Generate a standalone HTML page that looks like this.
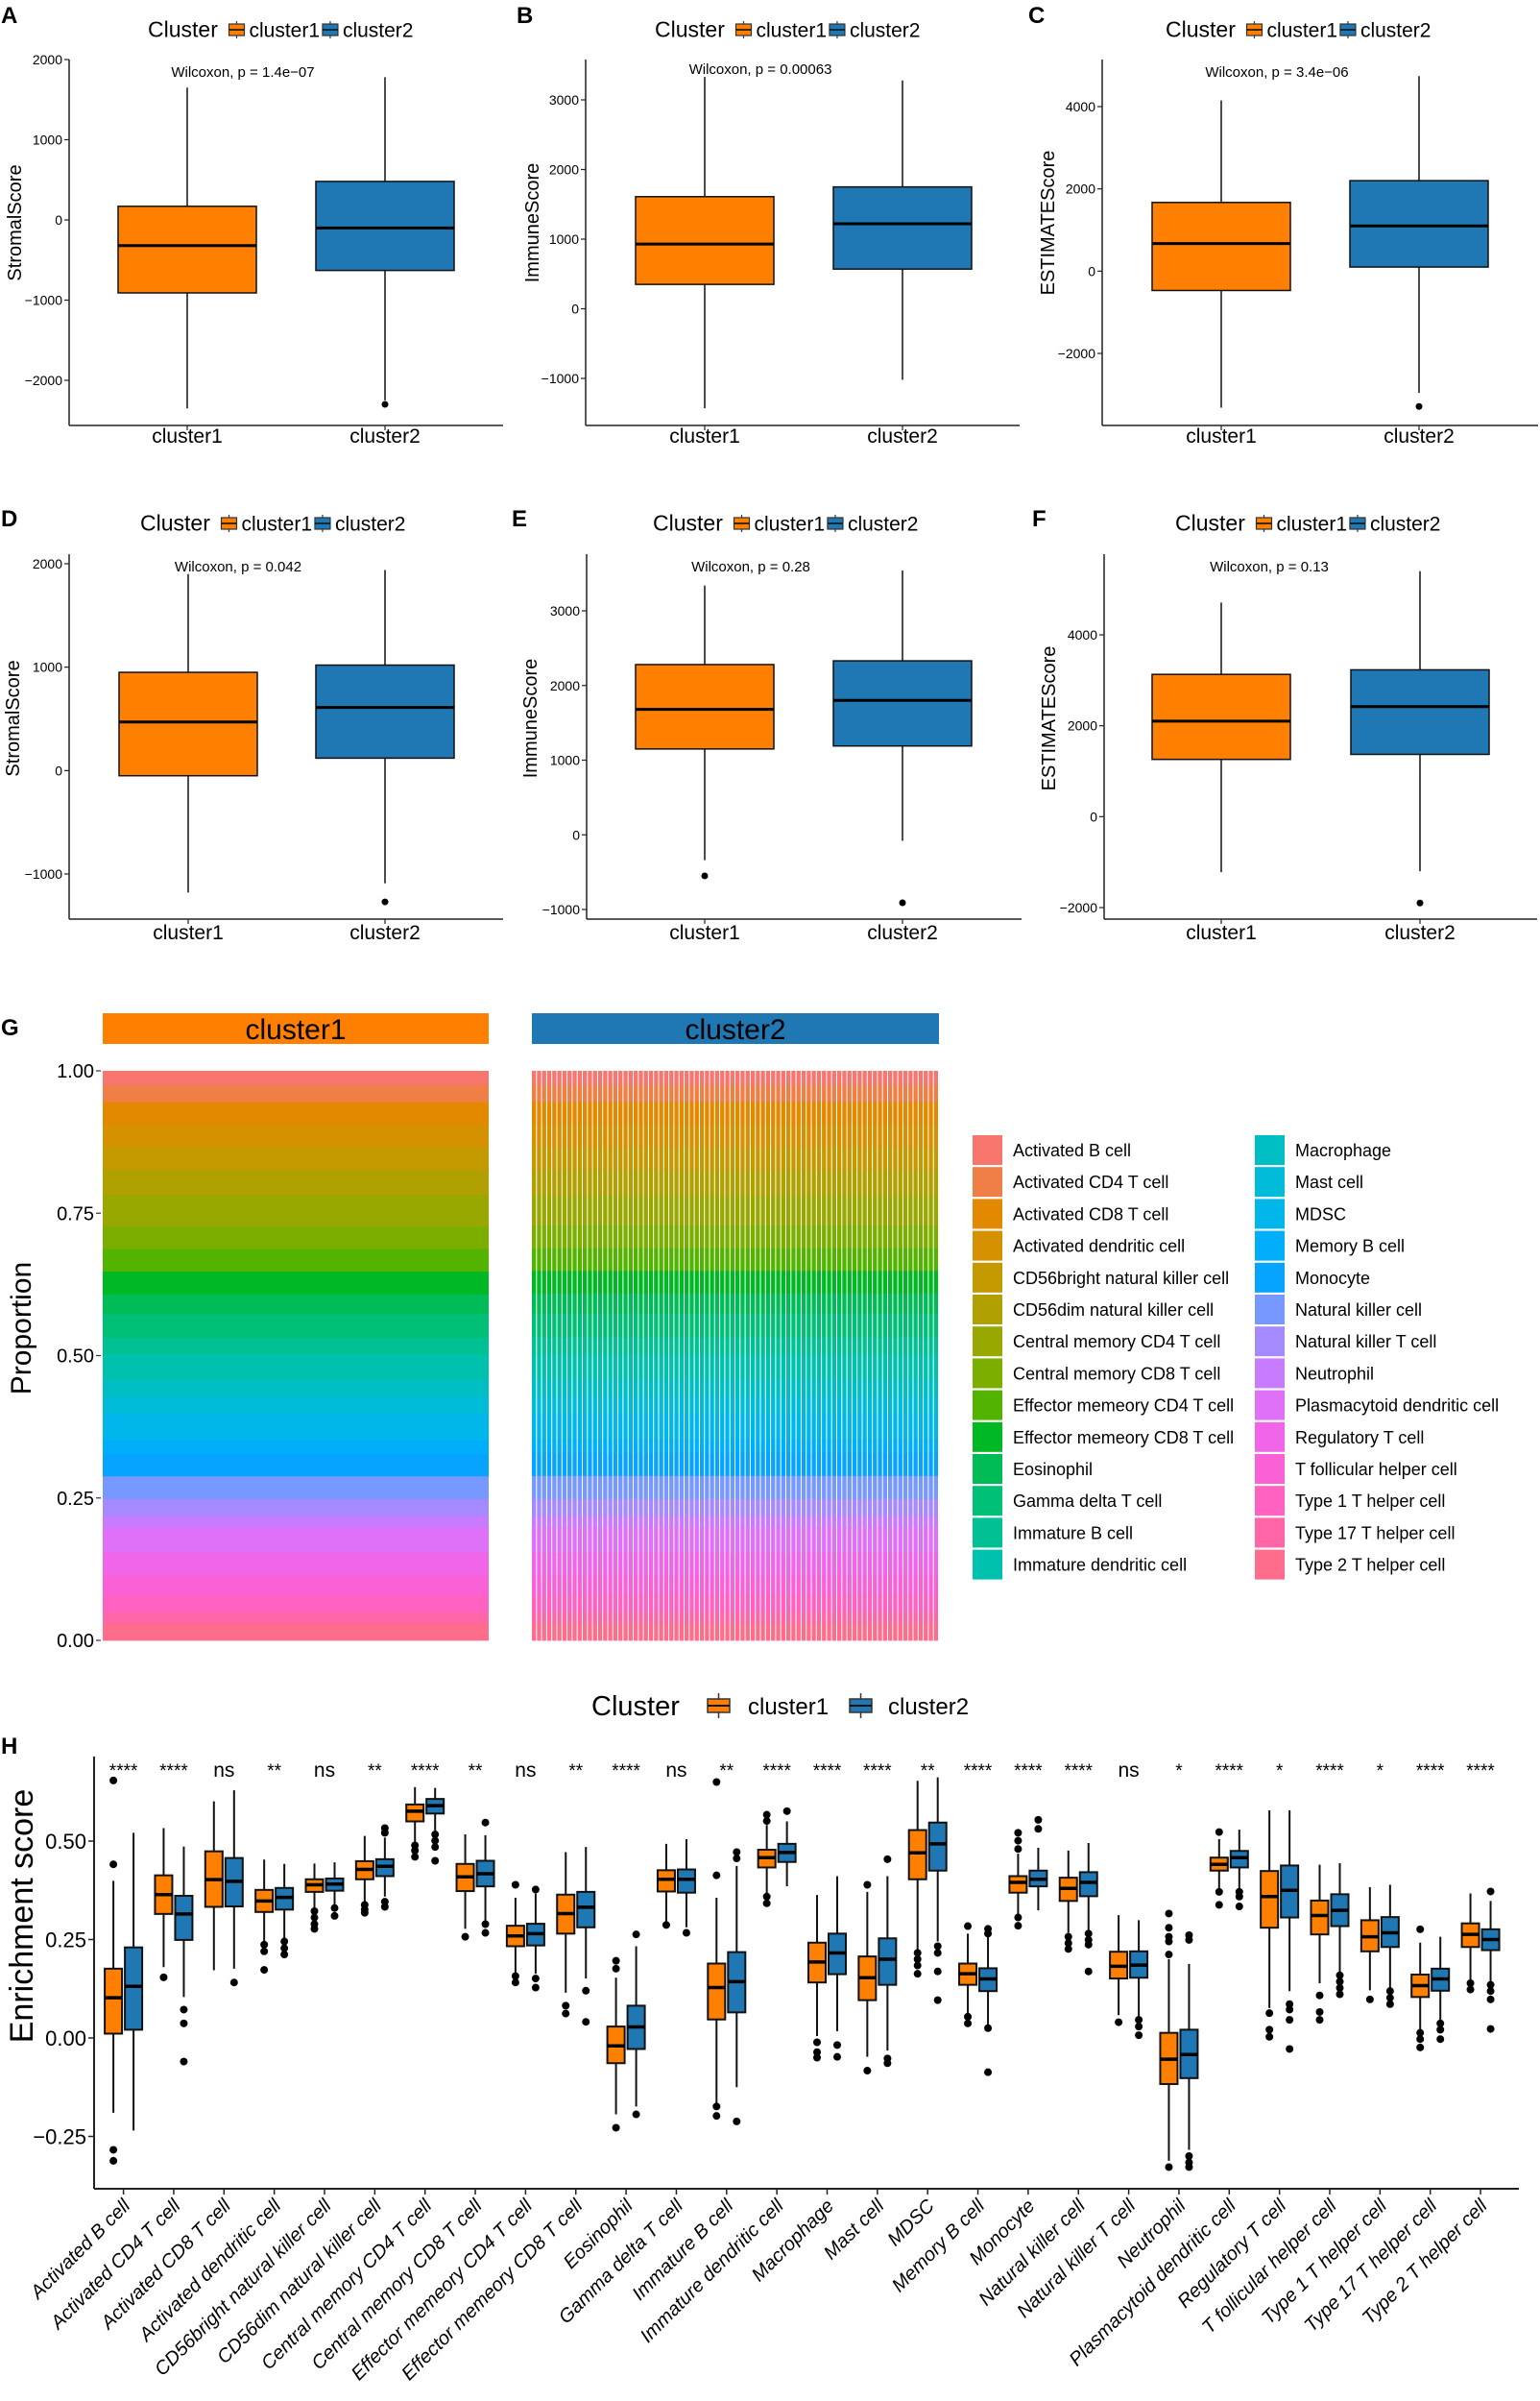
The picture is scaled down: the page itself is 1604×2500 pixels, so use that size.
<!DOCTYPE html>
<html><head><meta charset="utf-8">
<style>
html,body{margin:0;padding:0;background:#fff;}
svg{display:block;}
text{font-family:"Liberation Sans",sans-serif;fill:#000;}
</style></head>
<body>
<svg id="fig" width="1604" height="2500" viewBox="0 0 1604 2500" xmlns="http://www.w3.org/2000/svg"></svg>
<script>
// ===== Panels A-F data: [lowerWhisker, q1, median, q3, upperWhisker] =====
const aC1 = [-2350, -910, -320, 170, 1650];
const aC2 = [-2250, -630, -100, 480, 1780];
const aC1Out = [];
const aC2Out = [-2300];
const bC1 = [-1430, 350, 930, 1610, 3330];
const bC2 = [-1020, 570, 1220, 1750, 3280];
const bC1Out = [];
const bC2Out = [];
const cC1 = [-3320, -470, 670, 1670, 4150];
const cC2 = [-2960, 100, 1100, 2200, 4740];
const cC1Out = [];
const cC2Out = [-3290];
const dC1 = [-1180, -50, 470, 950, 1900];
const dC2 = [-1090, 120, 610, 1020, 1940];
const dC1Out = [];
const dC2Out = [-1270];
const eC1 = [-340, 1150, 1680, 2280, 3340];
const eC2 = [-80, 1190, 1800, 2330, 3540];
const eC1Out = [-550];
const eC2Out = [-910];
const fC1 = [-1220, 1260, 2100, 3130, 4710];
const fC2 = [-1200, 1370, 2420, 3230, 5400];
const fC1Out = [];
const fC2Out = [-1900];
const pLabels = ["Wilcoxon, p = 1.4e\u221207","Wilcoxon, p = 0.00063","Wilcoxon, p = 3.4e\u221206","Wilcoxon, p = 0.042","Wilcoxon, p = 0.28","Wilcoxon, p = 0.13"];
const yTitles = ["StromalScore","ImmuneScore","ESTIMATEScore","StromalScore","ImmuneScore","ESTIMATEScore"];
const ticksA = [-2000,-1000,0,1000,2000];
const ticksB = [-1000,0,1000,2000,3000];
const ticksC = [-2000,0,2000,4000];
const ticksD = [-1000,0,1000,2000];
const ticksE = [-1000,0,1000,2000,3000];
const ticksF = [-2000,0,2000,4000];
const groupNames = ["cluster1","cluster2"];

// ===== Panel G data =====
const cellTypes = ["Activated B cell","Activated CD4 T cell","Activated CD8 T cell","Activated dendritic cell","CD56bright natural killer cell","CD56dim natural killer cell","Central memory CD4 T cell","Central memory CD8 T cell","Effector memeory CD4 T cell","Effector memeory CD8 T cell","Eosinophil","Gamma delta T cell","Immature  B cell","Immature dendritic cell","Macrophage","Mast cell","MDSC","Memory B cell","Monocyte","Natural killer cell","Natural killer T cell","Neutrophil","Plasmacytoid dendritic cell","Regulatory T cell","T follicular helper cell","Type 1 T helper cell","Type 17 T helper cell","Type 2 T helper cell"];
const propC1 = [2.5,3,4,4,4,4.5,5.5,4,4,4,3.5,4.2,3,4.5,3,3,4.5,2.5,4,4,3,2,4.5,4,3.5,3,2,3];
const propC2 = [2.5,3,4,4,4,4.5,5.3,4,4,4,3.5,4.2,3,4.5,3,3,4.5,2.5,4,4,3,2,4.5,4,3.5,3,2,3];
const gTicks = [0,0.25,0.5,0.75,1];
const gTickLabels = ["0.00","0.25","0.50","0.75","1.00"];
const nSamples2 = 80;

// ===== Panel H data =====
const hCats = cellTypes;
const hSig = ["****","****","ns","**","ns","**","****","**","ns","**","****","ns","**","****","****","****","**","****","****","****","ns","*","****","*","****","*","****","****"];
const hC1Stats = [[-0.19,0.011,0.102,0.176,0.399],[0.180,0.315,0.364,0.413,0.533],[0.172,0.333,0.402,0.474,0.601],[0.241,0.320,0.348,0.376,0.453],[0.330,0.371,0.389,0.403,0.443],[0.346,0.403,0.428,0.449,0.513],[0.493,0.550,0.576,0.593,0.637],[0.277,0.373,0.409,0.442,0.517],[0.163,0.233,0.259,0.285,0.356],[0.115,0.265,0.316,0.364,0.472],[-0.194,-0.064,-0.020,0.029,0.153],[0.293,0.372,0.403,0.426,0.493],[-0.166,0.047,0.128,0.189,0.356],[0.364,0.433,0.458,0.478,0.541],[0.005,0.141,0.193,0.242,0.363],[-0.048,0.096,0.153,0.207,0.371],[0.223,0.403,0.470,0.528,0.653],[0.062,0.135,0.163,0.189,0.265],[0.311,0.369,0.395,0.411,0.468],[0.267,0.348,0.380,0.407,0.476],[0.058,0.151,0.182,0.219,0.312],[-0.312,-0.117,-0.054,0.013,0.200],[0.379,0.425,0.441,0.458,0.505],[0.076,0.280,0.359,0.424,0.578],[0.139,0.263,0.311,0.349,0.440],[0.121,0.220,0.257,0.299,0.383],[0.021,0.104,0.133,0.161,0.242],[0.146,0.231,0.263,0.291,0.367]];
const hC2Stats = [[-0.235,0.021,0.131,0.230,0.521],[0.104,0.249,0.315,0.361,0.486],[0.176,0.334,0.398,0.457,0.629],[0.249,0.326,0.357,0.381,0.442],[0.334,0.374,0.391,0.405,0.446],[0.359,0.411,0.436,0.454,0.509],[0.527,0.570,0.590,0.607,0.635],[0.293,0.385,0.417,0.450,0.515],[0.163,0.235,0.265,0.290,0.367],[0.151,0.281,0.332,0.371,0.485],[-0.174,-0.028,0.028,0.082,0.233],[0.281,0.369,0.403,0.428,0.505],[-0.125,0.065,0.143,0.218,0.437],[0.385,0.447,0.471,0.493,0.550],[0.017,0.162,0.216,0.265,0.411],[-0.032,0.135,0.200,0.253,0.411],[0.245,0.425,0.493,0.547,0.662],[0.033,0.119,0.150,0.177,0.259],[0.324,0.385,0.403,0.425,0.483],[0.273,0.360,0.395,0.421,0.495],[0.054,0.153,0.185,0.220,0.299],[-0.284,-0.102,-0.042,0.021,0.188],[0.375,0.433,0.458,0.475,0.529],[0.119,0.306,0.375,0.438,0.578],[0.167,0.284,0.324,0.365,0.444],[0.127,0.231,0.267,0.307,0.389],[0.041,0.120,0.150,0.176,0.257],[0.139,0.223,0.250,0.276,0.348]];
const hC1Out = [[0.654,0.441,-0.284,-0.312],[0.154],[],[0.237,0.220,0.173],[0.322,0.306,0.289,0.277],[0.338,0.326,0.318],[0.489,0.476,0.460],[0.257],[0.389,0.157,0.141],[0.082,0.062],[0.196,0.176,-0.228],[0.287],[0.650,0.413,-0.174,-0.198],[0.567,0.551,0.359,0.342],[-0.011,-0.036,-0.050],[0.389,-0.083],[0.216,0.2,0.184,0.163],[0.284,0.054,0.037],[0.521,0.501,0.480,0.306,0.285],[0.257,0.241,0.226],[0.040],[0.316,0.280,0.257,0.245,0.212,-0.328],[0.523,0.371,0.338],[0.063,0.021,0.003],[0.108,0.066,0.046],[0.098],[0.276,0.013,-0.003,-0.024],[0.139,0.123]];
const hC2Out = [[],[0.072,0.037,-0.060],[0.141],[0.245,0.228,0.212],[0.330,0.310],[0.533,0.521,0.346,0.333],[0.517,0.501,0.485,0.450],[0.547,0.289,0.267],[0.377,0.151,0.128],[0.12,0.041],[0.263,-0.194],[0.267],[0.472,0.456,-0.212],[0.576],[-0.018,-0.048],[0.454,-0.052,-0.064],[0.233,0.216,0.169,0.096],[0.277,0.265,0.025,-0.087],[0.554,0.531],[0.265,0.249,0.237,0.169],[0.046,0.029,0.007],[0.261,0.249,-0.300,-0.316,-0.328],[0.371,0.359,0.334],[0.086,0.072,0.046,-0.028],[0.159,0.143,0.127,0.111],[0.119,0.102,0.086],[0.037,0.021,-0.003],[0.372,0.135,0.119,0.098,0.023]];
const hTicks = [-0.25,0,0.25,0.5];
const hTickLabels = ["-0.25","0.00","0.25","0.50"];

// ===== helpers =====
const NS = "http://www.w3.org/2000/svg";
const svg = document.getElementById("fig");
const ORANGE = "#FF7F00", BLUE = "#1F77B4";
function mk(tag, attrs, parent) {
  const e = document.createElementNS(NS, tag);
  for (const k in attrs) e.setAttribute(k, attrs[k]);
  (parent || svg).appendChild(e);
  return e;
}
function txt(str, attrs, parent) {
  const e = mk("text", attrs, parent);
  e.textContent = str;
  return e;
}
function linScale(v0, p0, v1, p1) { return v => p0 + (v - v0) * (p1 - p0) / (v1 - v0); }

function drawBox(g, cx, hw, st, outs, color, ys, sw, mw, r) {
  const wl = mk("line", {x1:cx, x2:cx, y1:ys(st[4]), y2:ys(st[0]), stroke:"#111", "stroke-width":sw}, g);
  
  
  const bx = mk("rect", {x:cx-hw, y:ys(st[3]), width:2*hw, height:ys(st[1])-ys(st[3]), fill:color, stroke:"#111", "stroke-width":sw}, g);
  
  
  const md = mk("line", {x1:cx-hw, x2:cx+hw, y1:ys(st[2]), y2:ys(st[2]), stroke:"#000", "stroke-width":mw}, g);
  
  
  outs.forEach(o => {
    const c = mk("circle", {cx:cx, cy:ys(o), r:r, fill:"#000"}, g);
    
    
  });
}

function legendRow(g, x, yc, fs, gap) {
  const t = txt("Cluster", {x:x, y:yc+fs*0.36, "font-size":fs+2}, g);
  
  
  let cx = x + (fs+2)*3.5 + 4;
  [ORANGE, BLUE].forEach((col, i) => {
    const k = mk("g", {}, g);
    
    
    mk("line", {x1:cx+8, x2:cx+8, y1:yc-9, y2:yc+9, stroke:"#333", "stroke-width":1.2}, k);
    mk("rect", {x:cx, y:yc-6, width:16, height:12, fill:col, stroke:"#333", "stroke-width":1.2}, k);
    mk("line", {x1:cx, x2:cx+16, y1:yc, y2:yc, stroke:"#111", "stroke-width":1.6}, k);
    const lt = txt(groupNames[i], {x:cx+21+gap, y:yc+fs*0.36, "font-size":fs}, g);
    
    
    cx += 21 + gap + fs*3.45 + 4 + gap;
  });
}

// ===== Panels A-F =====
const panels = [
  {L:"A", lx:0, ly:24, ax:72, right:524, top:62, bot:443, t0:2000, p0:62, t1:-2000, p1:396, cx:[195,401], c1:aC1, c2:aC2, o1:aC1Out, o2:aC2Out, ticks:ticksA, tx:15, tyc:225, legX:154, legY:31, wx:253, wy:80, xly:461},
  {L:"B", lx:537, ly:24, ax:610, right:1062, top:62, bot:443, t0:3000, p0:104, t1:-1000, p1:394, cx:[734,940], c1:bC1, c2:bC2, o1:bC1Out, o2:bC2Out, ticks:ticksB, tx:554, tyc:225, legX:682, legY:31, wx:792, wy:77, xly:461},
  {L:"C", lx:1070, ly:24, ax:1148, right:1602, top:62, bot:443, t0:4000, p0:111, t1:-2000, p1:368, cx:[1272,1478], c1:cC1, c2:cC2, o1:cC1Out, o2:cC2Out, ticks:ticksC, tx:1091, tyc:225, legX:1214, legY:31, wx:1330, wy:80, xly:461},
  {L:"D", lx:0, ly:548, ax:72, right:524, top:577, bot:957, t0:2000, p0:587, t1:-1000, p1:910, cx:[196,401], c1:dC1, c2:dC2, o1:dC1Out, o2:dC2Out, ticks:ticksD, tx:13, tyc:741, legX:146, legY:545, wx:248, wy:595, xly:978},
  {L:"E", lx:532, ly:548, ax:611, right:1064, top:577, bot:957, t0:3000, p0:636, t1:-1000, p1:947, cx:[734,940], c1:eC1, c2:eC2, o1:eC1Out, o2:eC2Out, ticks:ticksE, tx:552, tyc:741, legX:680, legY:545, wx:782, wy:595, xly:978},
  {L:"F", lx:1074, ly:548, ax:1150, right:1601, top:577, bot:957, t0:4000, p0:661, t1:-2000, p1:945, cx:[1272,1479], c1:fC1, c2:fC2, o1:fC1Out, o2:fC2Out, ticks:ticksF, tx:1092, tyc:741, legX:1224, legY:545, wx:1322, wy:595, xly:978}
];
panels.forEach((p, i) => {
  const g = mk("g", {});
  
  
  const ys = linScale(p.t0, p.p0, p.t1, p.p1);
  const lt = txt(p.L, {x:p.lx+1, y:p.ly, "font-size":24, "font-weight":"bold"}, g);
  
  
  legendRow(g, p.legX, p.legY, 21, 0);
  // axes
  const ya = mk("line", {x1:p.ax, x2:p.ax, y1:p.top, y2:p.bot, stroke:"#222", "stroke-width":1.5}, g);
  
  
  const xa = mk("line", {x1:p.ax, x2:p.right, y1:p.bot, y2:p.bot, stroke:"#222", "stroke-width":1.5}, g);
  
  
  p.ticks.forEach(t => {
    const y = ys(t);
    mk("line", {x1:p.ax-5, x2:p.ax, y1:y, y2:y, stroke:"#222", "stroke-width":1.2}, g);
    const tl = txt(String(t).replace("-", "\u2212"), {x:p.ax-7, y:y+5, "font-size":14, "text-anchor":"end", fill:"#222"}, g);
    
    
  });
  const yt = txt(yTitles[i], {x:p.tx, y:p.tyc, "font-size":20, "text-anchor":"middle", transform:"rotate(-90 " + (p.tx+7) + " " + p.tyc + ")"}, g);
  
  
  const wt = txt(pLabels[i], {x:p.wx, y:p.wy, "font-size":15, "text-anchor":"middle"}, g);
  
  
  [[p.c1, p.o1, ORANGE], [p.c2, p.o2, BLUE]].forEach((s, j) => {
    mk("line", {x1:p.cx[j], x2:p.cx[j], y1:p.bot, y2:p.bot+5, stroke:"#222", "stroke-width":1.2}, g);
    const xl = txt(groupNames[j], {x:p.cx[j], y:p.xly, "font-size":21, "text-anchor":"middle"}, g);
    
    
    const bg = mk("g", {}, g);
    
    
    drawBox(bg, p.cx[j], 72, s[0], s[1], s[2], ys, 1.5, 3, 3.5);
  });
});

// ===== Panel G =====
function hcl2hex(h, c, l) {
  const hr = h * Math.PI / 180;
  const U = c * Math.cos(hr), V = c * Math.sin(hr);
  const Xn = 0.95047, Yn = 1.0, Zn = 1.08883;
  const Y = l > 8 ? Math.pow((l + 16) / 116, 3) : l / 903.3;
  const un = 4 * Xn / (Xn + 15 * Yn + 3 * Zn), vn = 9 * Yn / (Xn + 15 * Yn + 3 * Zn);
  const up = U / (13 * l) + un, vp = V / (13 * l) + vn;
  const X = Y * 9 * up / (4 * vp), Z = Y * (12 - 3 * up - 20 * vp) / (4 * vp);
  let r = 3.2404542*X - 1.5371385*Y - 0.4985314*Z;
  let g = -0.9692660*X + 1.8760108*Y + 0.0415560*Z;
  let b = 0.0556434*X - 0.2040259*Y + 1.0572252*Z;
  const gm = v => { v = v <= 0.0031308 ? 12.92 * v : 1.055 * Math.pow(v, 1/2.4) - 0.055; return Math.max(0, Math.min(255, Math.round(v * 255))); };
  return "#" + [gm(r), gm(g), gm(b)].map(v => v.toString(16).padStart(2, "0")).join("");
}
const nC = cellTypes.length;
const palette = cellTypes.map((_, i) => hcl2hex(15 + 360 * i / nC, 100, 65));

(function drawG() {
  const g = mk("g", {});
  
  
  const lt = txt("G", {x:1, y:1078, "font-size":24, "font-weight":"bold"}, g);
  
  
  const ys = linScale(0, 1708, 1, 1115);
  const facets = [{x0:107, x1:509, prop:propC1, col:ORANGE, bars:1}, {x0:554, x1:978, prop:propC2, col:BLUE, bars:nSamples2}];
  facets.forEach((f, j) => {
    const strip = mk("rect", {x:f.x0, y:1055, width:f.x1-f.x0, height:32, fill:f.col}, g);
    
    
    const st = txt(groupNames[j], {x:(f.x0+f.x1)/2, y:1082, "font-size":30, "text-anchor":"middle", fill:"#111"}, g);
    
    
    const total = f.prop.reduce((a, b) => a + b, 0);
    const bw = (f.x1 - f.x0) / f.bars;
    for (let b = 0; b < f.bars; b++) {
      const bx = f.x0 + b * bw;
      let cum = 1;
      f.prop.forEach((v, k) => {
        const frac = v / total;
        const r = mk("rect", {x:bx, y:ys(cum), width:f.bars > 1 ? bw - 1 : bw, height:ys(cum - frac) - ys(cum) + 0.4, fill:palette[k]}, g);
        
        
        cum -= frac;
      });
    }
  });
  gTicks.forEach((t, i) => {
    const y = ys(t);
    mk("line", {x1:100, x2:105, y1:y, y2:y, stroke:"#333", "stroke-width":1.2}, g);
    const tl = txt(gTickLabels[i], {x:98, y:y+7, "font-size":20, "text-anchor":"end", fill:"#333"}, g);
    
    
  });
  const yt = txt("Proportion", {x:22, y:1373, "font-size":30, "text-anchor":"middle", transform:"rotate(-90 32 1373)"}, g);
  
  
  // legend
  cellTypes.forEach((name, k) => {
    const col = k < 14 ? 0 : 1;
    const row = k % 14;
    const kx = col === 0 ? 1013 : 1307;
    const ky = 1182 + row * 33.2;
    const e = mk("g", {}, g);
    
    
    mk("rect", {x:kx, y:ky, width:31, height:31, fill:palette[k]}, e);
    txt(name, {x:kx+42, y:ky+22, "font-size":18, fill:"#111"}, e);
  });
})();

// ===== Panel H =====
(function drawH() {
  const g = mk("g", {});
  
  
  const lt = txt("H", {x:1, y:1826, "font-size":24, "font-weight":"bold"}, g);
  
  
  // legend
  const lg = mk("g", {}, g);
  
  
  const lt2 = txt("Cluster", {x:616, y:1786, "font-size":29}, lg);
  
  
  [[737, ORANGE, 779], [885, BLUE, 925]].forEach((d, i) => {
    const k = mk("g", {}, lg);
    
    
    mk("line", {x1:d[0]+11.5, x2:d[0]+11.5, y1:1763, y2:1789, stroke:"#333", "stroke-width":1.5}, k);
    mk("rect", {x:d[0], y:1769, width:23, height:14, fill:d[1], stroke:"#333", "stroke-width":1.5}, k);
    mk("line", {x1:d[0], x2:d[0]+23, y1:1776, y2:1776, stroke:"#111", "stroke-width":2}, k);
    const t = txt(groupNames[i], {x:d[2], y:1785, "font-size":24}, lg);
    
    
  });
  const ys = linScale(0, 2122, 0.5, 1917);
  const xc = i => 128.6 + 52.35 * i;
  const ya = mk("line", {x1:98, x2:98, y1:1829, y2:2279, stroke:"#222", "stroke-width":2}, g);
  
  
  const xa = mk("line", {x1:98, x2:1582, y1:2279, y2:2279, stroke:"#222", "stroke-width":2}, g);
  
  
  hTicks.forEach((t, i) => {
    const y = ys(t);
    mk("line", {x1:92, x2:98, y1:y, y2:y, stroke:"#222", "stroke-width":1.5}, g);
    const tl = txt(hTickLabels[i].replace("-", "\u2212"), {x:90, y:y+8, "font-size":22, "text-anchor":"end", fill:"#222"}, g);
    
    
  });
  const yt = txt("Enrichment score", {x:22, y:1983, "font-size":34, "text-anchor":"middle", transform:"rotate(-90 34 1983)"}, g);
  
  
  hCats.forEach((name, i) => {
    const cx = xc(i);
    mk("line", {x1:cx, x2:cx, y1:2279, y2:2285, stroke:"#222", "stroke-width":1.5}, g);
    const xl = txt(name, {x:cx+8, y:2298, "font-size":20, "font-style":"italic", "text-anchor":"end", transform:"rotate(-45 " + (cx+8) + " 2298)"}, g);
    
    
    const sg = txt(hSig[i], {x:cx, y:1850, "font-size":hSig[i] === "ns" ? 21 : 19, "text-anchor":"middle"}, g);
    
    
    const b1 = mk("g", {}, g);
    
    
    drawBox(b1, cx - 10.5, 9, hC1Stats[i], hC1Out[i], ORANGE, ys, 2, 3.5, 4);
    const b2 = mk("g", {}, g);
    
    
    drawBox(b2, cx + 10.5, 9, hC2Stats[i], hC2Out[i], BLUE, ys, 2, 3.5, 4);
  });
})();
</script>
</body></html>
